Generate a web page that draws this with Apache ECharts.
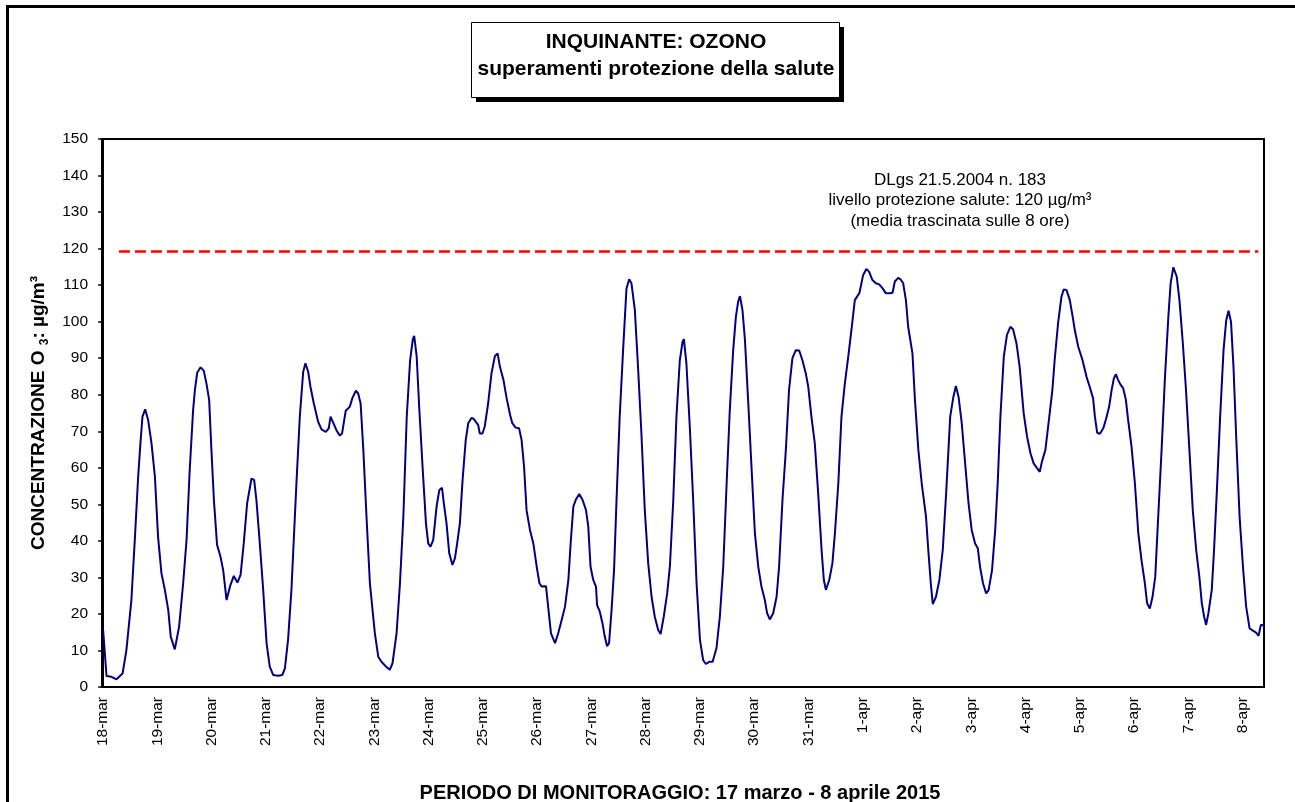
<!DOCTYPE html>
<html>
<head>
<meta charset="utf-8">
<script src="https://cdn.jsdelivr.net/npm/echarts@6/dist/echarts.min.js"></script>
<style>
html,body{margin:0;padding:0;background:#fff;}
#chart{width:1295px;height:802px;}
</style>
</head>
<body>
<div id="chart"></div>
<script>
// ---- data (hours since 18-mar 00:00, ozone 8h moving average µg/m³) ----
const dayLabels = ['18-mar','19-mar','20-mar','21-mar','22-mar','23-mar','24-mar','25-mar','26-mar','27-mar','28-mar','29-mar','30-mar','31-mar','1-apr','2-apr','3-apr','4-apr','5-apr','6-apr','7-apr','8-apr'];
const yTicks = [0,10,20,30,40,50,60,70,80,90,100,110,120,130,140,150];

const hours = [
0,1.5,3.7,5.9,8.6,10.3,12.5,14.0,15.5,16.5,17.4,18.6,19.9,21.4,22.9,24.3,25.8,27.3,28.8,29.9,31.7,33.6,35.4,36.9,38.3,39.8,40.6,41.6,43.1,44.5,45.7,46.9,47.9,49.0,50.4,51.9,53.1,54.6,56.3,57.8,59.4,60.8,62.2,63.7,65.6,66.8,67.8,69.3,70.8,72.3,73.7,75.2,77.4,79.3,80.4,81.8,83.3,
85.5,87.0,88.5,89.5,90.7,91.7,93.2,95.1,96.6,98.5,99.8,100.6,101.4,103.2,104.7,105.7,107.3,109.1,110.2,111.8,112.8,113.9,115.1,116.5,118.0,120.2,121.7,123.1,125.1,126.8,128.0,129.8,131.3,132.8,134.3,135.8,137.0,137.6,138.7,139.8,141.3,142.8,143.8,144.8,146.0,147.5,148.7,149.9,150.7,151.9,153.1,154.5,155.6,156.6,157.8,159.0,160.4,161.5,163.0,164.0,165.9,
166.6,167.8,168.8,170.3,171.8,173.3,174.5,175.5,177.1,178.5,180.0,181.0,182.5,184.0,185.1,186.2,187.3,188.8,190.3,191.8,193.0,194.0,195.9,197.0,198.1,199.9,201.3,202.8,204.3,205.8,206.8,208.0,209.2,210.6,212.1,213.6,214.6,215.6,216.8,218.0,218.5,219.7,220.9,221.9,222.9,223.8,224.9,226.0,227.1,228.5,230.0,231.5,232.7,233.7,235.2,236.6,238.1,239.6,241.1,242.6,244.0,245.5,246.6,248.0,249.5,
250.7,252.2,253.6,255.1,256.3,256.9,258.0,259.5,261.0,262.5,264.0,265.4,266.6,268.1,269.6,271.3,272.8,274.3,275.8,277.2,278.7,279.9,280.9,281.7,282.8,283.9,285.3,286.8,288.3,289.8,291.2,292.7,293.7,294.9,296.4,297.9,299.0,300.5,302.0,303.4,304.9,306.4,307.9,309.3,310.8,311.9,313.3,314.8,316.3,317.8,318.8,319.7,321.2,322.6,323.7,325.2,326.6,328.1,329.6,331.1,332.5,334.5,
336.2,337.6,338.8,340.3,341.8,343.3,344.8,346.2,348.0,349.2,350.2,351.7,352.7,353.9,355.1,356.1,358.0,359.1,360.6,362.1,364.0,365.0,366.1,367.0,368.4,369.9,371.4,372.9,374.7,376.1,377.2,378.4,379.8,381.3,382.8,384.2,385.7,386.9,387.9,389.2,390.6,391.7,393.2,394.6,395.7,396.9,398.4,399.8,401.3,402.5,404.0,405.4,407.2,408.7,410.2,411.6,413.1,414.3,415.3,416.8,
418.7,419.9,420.9,422.4,423.9,424.9,426.1,427.6,429.1,429.8,431.3,433.2,435.0,436.4,437.9,438.7,439.7,440.9,442.4,443.5,445.0,446.1,447.1,448.0,449.0,450.1,451.2,452.4,453.4,454.9,456.4,457.9,459.3,460.8,461.8,463.0,464.2,465.4,466.7,468.2,469.7,471.2,472.2,473.4,474.1,474.9,476.1,477.6,479.0,480.5,482.0,483.5,484.9,486.0,487.0,487.9,488.9,490.4,491.4,492.6,494.1,495.6,496.8,497.8,498.9,500.0,501.2,502.7,504.2,505.6,507.1,508.6,510.0,511.1,512.1,513.3,513.5
];
const ozone = [
15.6,3.0,2.8,2.1,3.7,10.1,23.8,40.2,57.6,66.7,74.0,76.0,73.1,66.7,57.6,41.1,31.1,26.6,21.1,13.8,10.3,16.5,28.4,40.2,59.4,75.8,81.3,86.0,87.5,86.6,83.1,78.6,64.9,51.2,38.9,35.7,32.0,23.8,27.9,30.4,28.6,30.7,39.3,50.3,57.0,56.7,51.2,39.3,26.6,12.0,5.6,3.3,3.1,3.3,5.1,12.9,26.6,
55.7,74.0,86.3,88.6,86.3,82.2,77.6,72.6,70.5,69.8,70.8,74.0,74.4,70.3,68.8,69.4,75.6,76.7,79.0,81.1,80.4,77.6,64.9,46.6,28.4,14.7,8.3,6.9,5.6,4.7,6.5,14.7,28.4,46.6,74.0,89.5,95.2,96.1,90.4,76.7,60.3,44.8,39.3,38.4,40.2,49.4,53.9,54.5,50.3,44.8,36.6,33.4,35.2,39.3,44.8,56.7,67.6,72.2,73.7,73.3,71.7,
69.4,69.4,71.3,77.6,85.9,90.6,91.3,87.7,84.0,79.0,74.5,72.2,71.0,70.8,67.6,60.3,48.4,43.0,39.3,32.9,28.4,27.5,27.6,21.1,14.7,12.0,14.7,18.3,22.0,29.3,39.3,49.4,51.4,52.8,51.2,48.4,43.9,32.9,29.3,27.5,22.4,20.6,17.4,13.8,11.2,12.0,21.1,32.0,51.2,74.0,92.2,109.1,111.6,110.5,103.2,87.7,69.4,48.4,33.9,24.7,19.3,15.6,14.5,19.3,25.6,
33.0,51.2,74.0,89.5,94.5,95.2,88.6,71.3,51.2,28.4,12.9,7.4,6.3,6.9,6.9,10.6,19.3,32.9,55.7,75.8,92.2,101.4,105.5,107.0,103.2,95.0,78.6,60.2,42.1,32.9,27.5,23.8,20.2,18.5,20.2,24.7,32.9,51.2,64.9,81.3,90.0,92.2,92.1,89.5,85.9,82.2,74.0,66.7,53.0,37.5,29.3,26.6,29.3,33.9,42.1,55.7,74.0,83.1,90.4,98.2,105.9,107.8,
112.8,114.4,113.7,111.4,110.5,110.2,109.1,107.8,107.8,107.9,111.0,112.0,111.6,110.5,105.9,98.6,91.3,78.6,64.9,55.7,46.6,37.5,28.4,22.7,24.7,29.3,37.5,53.0,74.0,79.4,82.4,79.4,72.2,61.2,50.3,43.0,39.3,38.0,32.9,28.4,25.6,26.6,32.0,43.0,55.7,74.0,90.4,96.4,98.6,97.9,94.1,87.7,74.9,68.5,64.0,61.2,59.9,58.9,61.7,64.9,
74.9,81.3,89.5,99.5,106.8,108.8,108.7,105.9,100.5,97.7,93.2,89.5,84.9,82.2,79.0,74.0,69.6,69.3,70.8,73.1,76.7,81.3,84.5,85.6,84.0,82.7,81.8,78.6,73.1,65.8,55.7,42.1,34.8,28.4,22.9,21.5,24.7,30.2,46.6,64.9,84.9,101.4,110.5,114.9,115.1,112.3,105.9,94.1,81.3,64.9,48.4,37.5,30.2,22.9,19.3,17.0,20.2,26.6,37.5,53.0,74.0,92.2,100.4,103.0,100.0,87.7,68.5,46.6,32.9,22.0,16.1,15.4,14.9,14.0,17.0,17.0,16.0
];
const limitHours = [7, 511];
const limitValue = 119.2;

// ---- chart ----
const FONT = '"Liberation Sans", Arial, Helvetica, sans-serif';
const chart = echarts.init(document.getElementById('chart'), null, {renderer: 'canvas'});
const lineData = hours.map((h, i) => [h, ozone[i]]);
const limitData = limitHours.map(h => [h, limitValue]);
const dayTicks = dayLabels.map((d, i) => i * 24);

const option = {
  animation: false,
  backgroundColor: '#fff',
  grid: {left: 102, top: 139, width: 1162, height: 548, show: true, borderColor: '#000', borderWidth: 2, backgroundColor: 'transparent'},
  xAxis: {
    type: 'value', min: -0.5, max: 513.5,
    axisLine: {show: true, onZero: false, lineStyle: {color: '#000', width: 2}},
    axisTick: {show: false},
    splitLine: {show: false},
    axisLabel: {
      customValues: dayTicks, rotate: 90, margin: 10,
      fontSize: 15.5, fontFamily: FONT, color: '#000',
      formatter: v => dayLabels[Math.round(v / 24)] || ''
    }
  },
  yAxis: {
    type: 'value', min: yTicks[0], max: yTicks[yTicks.length - 1], interval: 10,
    axisLine: {show: true, lineStyle: {color: '#000', width: 2}},
    axisTick: {show: true, inside: false, length: 5, lineStyle: {color: '#000', width: 1.5}},
    splitLine: {show: false},
    axisLabel: {margin: 14, fontSize: 15.5, fontFamily: FONT, color: '#000'}
  },
  series: [
    {type: 'line', data: limitData, symbol: 'none', silent: true,
     lineStyle: {color: '#ff0000', width: 2.5, type: [11, 5]}},
    {type: 'line', data: lineData, symbol: 'none', silent: true,
     lineStyle: {color: '#000080', width: 2}}
  ],
  graphic: [
    {type: 'rect', silent: true, shape: {x: 7.5, y: 6.5, width: 1310, height: 820},
     style: {fill: 'none', stroke: '#000', lineWidth: 3}},
    {type: 'rect', silent: true, shape: {x: 476, y: 27, width: 368, height: 75}, style: {fill: '#000'}},
    {type: 'rect', silent: true, shape: {x: 471.5, y: 22.5, width: 368, height: 75},
     style: {fill: '#fff', stroke: '#000', lineWidth: 1}},
    {type: 'text', silent: true, x: 656, y: 42,
     style: {text: 'INQUINANTE: OZONO', font: 'bold 21px ' + FONT, fill: '#000', align: 'center', verticalAlign: 'middle'}},
    {type: 'text', silent: true, x: 656, y: 69.5,
     style: {text: 'superamenti protezione della salute', font: 'bold 21px ' + FONT, fill: '#000', align: 'center', verticalAlign: 'middle'}},
    {type: 'text', silent: true, x: 960, y: 180,
     style: {text: 'DLgs 21.5.2004 n. 183', font: '17px ' + FONT, fill: '#000', align: 'center', verticalAlign: 'middle'}},
    {type: 'text', silent: true, x: 960, y: 200.5,
     style: {text: 'livello protezione salute: 120 µg/m³', font: '17px ' + FONT, fill: '#000', align: 'center', verticalAlign: 'middle'}},
    {type: 'text', silent: true, x: 960, y: 221.5,
     style: {text: '(media trascinata sulle 8 ore)', font: '17px ' + FONT, fill: '#000', align: 'center', verticalAlign: 'middle'}},
    {type: 'text', silent: true, x: 680, y: 793,
     style: {text: 'PERIODO DI MONITORAGGIO: 17 marzo - 8 aprile 2015', font: 'bold 20px ' + FONT, fill: '#000', align: 'center', verticalAlign: 'middle'}},
    {type: 'text', silent: true, x: 39, y: 413, rotation: Math.PI / 2,
     style: {
       text: '{b|CONCENTRAZIONE O }{s|3}{b|: µg/m³}',
       align: 'center', verticalAlign: 'middle', fill: '#000',
       rich: {
         b: {fontSize: 19, fontWeight: 'bold', fontFamily: FONT, fill: '#000', lineHeight: 24},
         s: {fontSize: 12, fontWeight: 'bold', fontFamily: FONT, fill: '#000', lineHeight: 13, verticalAlign: 'bottom'}
       }
     }}
  ]
};
chart.setOption(option);
</script>
</body>
</html>
